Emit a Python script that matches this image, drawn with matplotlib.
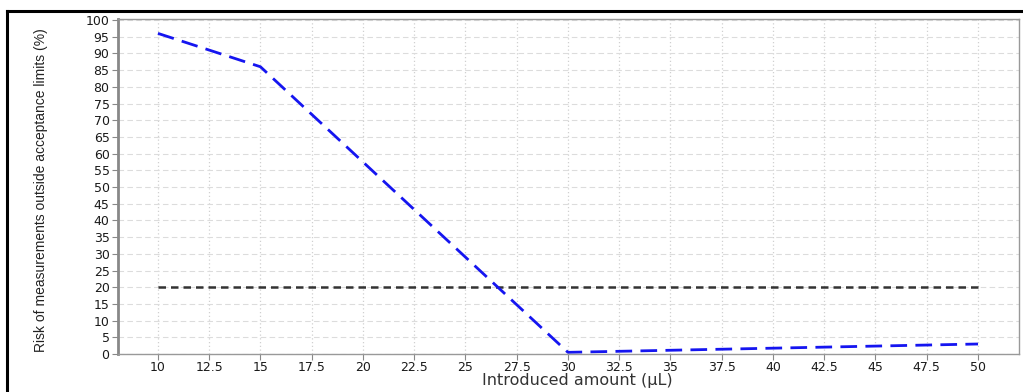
"""Risk of measurements outside acceptance limits vs introduced amount."""

import matplotlib
matplotlib.use("Agg")
import matplotlib.pyplot as plt
from matplotlib.lines import Line2D
import numpy as np

# data
amount_ul = [10, 15, 30, 50]
risk_pct = [96, 86, 0.5, 3]
limit_pct = [20, 20, 20, 20]

x_ticks = np.arange(10, 50.1, 2.5)
x_tick_labels = ["10", "12.5", "15", "17.5", "20", "22.5", "25", "27.5", "30",
                 "32.5", "35", "37.5", "40", "42.5", "45", "47.5", "50"]
y_ticks = np.arange(0, 101, 5)

fig = plt.figure(figsize=(10.23, 3.92), dpi=100)
ax = fig.add_axes([0.1153, 0.0969, 0.8808, 0.8546])

# gridlines: dashed horizontal, dotted vertical
ax.set_axisbelow(True)
ax.yaxis.grid(True, linestyle=(0, (5, 3)), color="#dcdcdc", linewidth=0.8)
ax.xaxis.grid(True, linestyle=(0, (1, 2)), color="#d0d0d0", linewidth=0.9)

ax.plot(amount_ul, limit_pct, color="#333333", linestyle=(0, (3, 2)), linewidth=1.8)
ax.plot(amount_ul, risk_pct, color="#1515f0", linestyle=(0, (6, 3)), linewidth=2.0)

ax.set_xlim(8.05, 52.0)
ax.set_ylim(0, 100.3)
ax.set_xticks(x_ticks)
ax.set_xticklabels(x_tick_labels)
ax.set_yticks(y_ticks)

for lbl in ax.get_xticklabels() + ax.get_yticklabels():
    lbl.set_fontfamily("DejaVu Sans")
    lbl.set_fontsize(9)
    lbl.set_color("#1a1a1a")
ax.tick_params(axis="both", direction="out", length=4, width=0.8, color="#888888", pad=2)
ax.tick_params(axis="x", pad=1)

for side in ["top", "right", "bottom"]:
    ax.spines[side].set_color("#999999")
    ax.spines[side].set_linewidth(1.0)
ax.spines["left"].set_color("#888888")
ax.spines["left"].set_linewidth(2.0)

ax.set_xlabel("Introduced amount (µL)", fontsize=11.5, family="DejaVu Sans",
              color="#333333")
ax.xaxis.set_label_coords(0.51, -0.058)
ax.set_ylabel("Risk of measurements outside acceptance limits (%)",
              family="Liberation Sans", fontsize=10, color="#222222")
ax.yaxis.set_label_coords(-0.078, 0.49)

# black outer frame on top and left
fig.add_artist(Line2D([0.0068, 0.0068], [0, 0.972], transform=fig.transFigure,
                      color="black", linewidth=2.2))
fig.add_artist(Line2D([0.0068, 1.0], [0.972, 0.972], transform=fig.transFigure,
                      color="black", linewidth=2.2))

fig.savefig("out.png", dpi=100)
